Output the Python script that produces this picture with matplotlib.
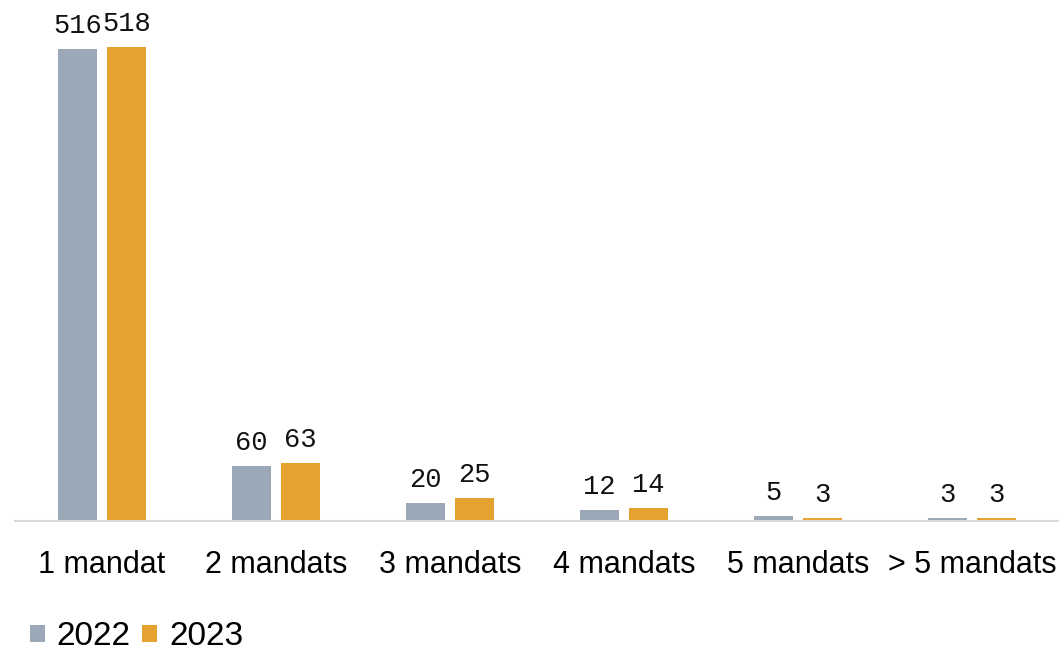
import matplotlib
matplotlib.use("Agg")
import matplotlib.pyplot as plt
import numpy as np

categories = ["1 mandat", "2 mandats", "3 mandats", "4 mandats", "5 mandats", "> 5 mandats"]
series_names = ["2022", "2023"]
values_2022 = [516, 60, 20, 12, 5, 3]
values_2023 = [518, 63, 25, 14, 3, 3]
colors = ["#9BA8B7", "#E6A22E"]

fig = plt.figure(figsize=(10.59, 6.53), dpi=100)
ax = fig.add_axes([15/1059, 1 - 521/653, 1 - 15/1059, (521 - 20)/653])

x = np.arange(len(categories))
w = 0.225
gap = 0.058
off = (w + gap) / 2
b1 = ax.bar(x - off, values_2022, w, color=colors[0], label=series_names[0])
b2 = ax.bar(x + off, values_2023, w, color=colors[1], label=series_names[1])

for bars, vals in ((b1, values_2022), (b2, values_2023)):
    for r, v in zip(bars, vals):
        ax.text(r.get_x() + r.get_width()/2, r.get_height() + 11, str(v),
                ha="center", va="bottom", fontsize=19.5, family="Liberation Mono", color="#111111")

ax.set_xlim(-0.5, len(categories) - 0.5)
ax.set_ylim(0, 547.5)
ax.set_xticks(x)
ax.set_xticklabels(categories, fontsize=22, family="Liberation Sans")
ax.tick_params(axis="x", length=0, pad=21)
ax.set_yticks([])
for s in ("top", "right", "left"):
    ax.spines[s].set_visible(False)
ax.spines["bottom"].set_color("#D9D9D9")
ax.spines["bottom"].set_linewidth(1.5)

leg = fig.legend(loc="lower left", bbox_to_anchor=(0.0, -0.045), ncol=2, frameon=False,
                 prop={"family": "Liberation Sans", "size": 24}, handlelength=0.45, handleheight=0.45,
                 handletextpad=0.35, columnspacing=0.35)

fig.savefig("out.png", dpi=100)
